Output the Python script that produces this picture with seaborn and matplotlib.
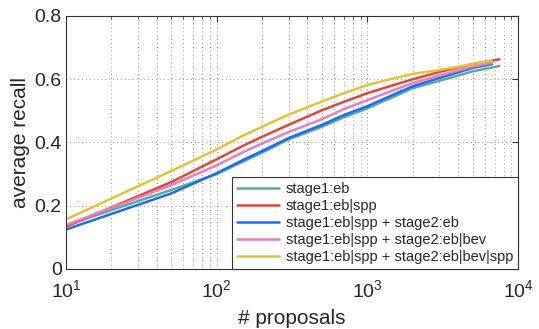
import matplotlib
matplotlib.use('Agg')
import matplotlib.pyplot as plt
import seaborn as sns
import pandas as pd
import numpy as np

# x positions (# proposals)
proposals = [10, 50, 100, 150, 200, 300, 500, 700, 1000, 1500, 2000, 3000, 5000]
end_short = 6700
end_long = 7500

# average recall per method
recall_eb = [0.138, 0.250, 0.300, 0.340, 0.368, 0.410, 0.450, 0.480, 0.508, 0.545,
             0.572, 0.595, 0.625, 0.642]
recall_eb_spp = [0.134, 0.275, 0.347, 0.390, 0.418, 0.456, 0.502, 0.529, 0.556, 0.582,
                 0.600, 0.623, 0.648, 0.663]
recall_s2_eb = [0.125, 0.239, 0.303, 0.345, 0.373, 0.414, 0.456, 0.487, 0.515, 0.552,
                0.578, 0.604, 0.636, 0.648]
recall_s2_bev = [0.139, 0.265, 0.328, 0.370, 0.397, 0.433, 0.474, 0.506, 0.534, 0.566,
                 0.588, 0.612, 0.640, 0.652]
recall_s2_bev_spp = [0.157, 0.310, 0.378, 0.422, 0.450, 0.488, 0.530, 0.556, 0.582, 0.603,
                     0.617, 0.629, 0.648, 0.659]

labels = ['stage1:eb', 'stage1:eb|spp', 'stage1:eb|spp + stage2:eb',
          'stage1:eb|spp + stage2:eb|bev', 'stage1:eb|spp + stage2:eb|bev|spp']
colors = ['#5aab96', '#e0463a', '#1a6cf6', '#e87fb6', '#e0c436']
ends = [end_long, end_long, end_short, end_short, end_short]
series = [recall_eb, recall_eb_spp, recall_s2_eb, recall_s2_bev, recall_s2_bev_spp]

rows = []
for lab, vals, e in zip(labels, series, ends):
    xs = proposals + [e]
    for x, v in zip(xs, vals):
        rows.append({'proposals': x, 'recall': v, 'method': lab})
df = pd.DataFrame(rows)

sns.set_style('white')
plt.rcParams['font.family'] = ['Liberation Sans', 'DejaVu Sans']

fig = plt.figure(figsize=(5.39, 3.29), dpi=100)
ax = fig.add_axes([0.1224, 0.1824, 0.839, 0.769])

sns.lineplot(data=df, x='proposals', y='recall', hue='method', hue_order=labels,
             palette=colors, linewidth=1.8, ax=ax, sort=False)

ax.set_xscale('log')
ax.set_xlim(10, 1e4)
ax.set_ylim(0, 0.8)
ax.set_yticks([0, 0.2, 0.4, 0.6, 0.8])
ax.set_yticklabels(['0', '0.2', '0.4', '0.6', '0.8'])
ax.tick_params(which='both', direction='in', top=True, right=True,
               labelsize=14, color='#333333')
ax.tick_params(which='major', length=4)
ax.tick_params(which='minor', length=2)
ax.tick_params(axis='x', which='major', pad=7)
ax.tick_params(axis='y', which='major', pad=3)
ax.grid(True, which='major', linestyle=(0, (1, 3)), color='#999999', linewidth=0.7)
ax.grid(True, which='minor', axis='x', linestyle=(0, (1, 3)), color='#999999', linewidth=0.7)
for s in ax.spines.values():
    s.set_color('#333333')
    s.set_linewidth(0.8)

ax.set_xlabel('# proposals', fontsize=15, labelpad=6)
ax.set_ylabel('average recall', fontsize=15, labelpad=3)

leg = ax.legend(loc='lower right', fontsize=10.5, frameon=True, fancybox=False,
                edgecolor='#333333', framealpha=1, borderaxespad=0,
                handlelength=2.9, handletextpad=0.45, labelspacing=0.2,
                borderpad=0.35)
leg.get_frame().set_linewidth(0.8)

fig.savefig('out.png', dpi=100)
